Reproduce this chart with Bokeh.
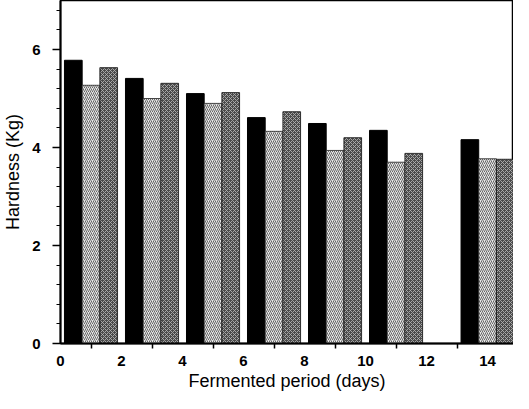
from bokeh.plotting import figure
from bokeh.models import Range1d, FixedTicker, ColumnDataSource
from bokeh.embed import file_html
from bokeh.resources import INLINE

days = [1, 3, 5, 7, 9, 11, 14]
series_a = [5.78, 5.41, 5.10, 4.61, 4.49, 4.35, 4.16]   # black
series_b = [5.27, 5.00, 4.90, 4.33, 3.94, 3.70, 3.77]   # light hatched
series_c = [5.63, 5.31, 5.12, 4.73, 4.20, 3.88, 3.76]   # dark hatched
x_tick_labels = [0, 2, 4, 6, 8, 10, 12, 14]
y_ticks = [0, 2, 4, 6]

bar_w = 0.58

p = figure(width=513, height=393, output_backend="svg", toolbar_location=None,
           x_range=Range1d(0, 14.85), y_range=Range1d(0, 7.0),
           min_border_left=58, min_border_right=0, min_border_top=0,
           min_border_bottom=40)

src = ColumnDataSource(dict(
    xa=[d - bar_w for d in days], xb=list(days), xc=[d + bar_w for d in days],
    a=series_a, b=series_b, c=series_c))

p.vbar(x="xa", top="a", width=bar_w, source=src, fill_color="black", line_color="black")
p.vbar(x="xb", top="b", width=bar_w, source=src, fill_color="#e6e6e6", line_color="#222222",
       line_width=0.8, hatch_pattern="/", hatch_color="#666666", hatch_scale=4, hatch_weight=1.0)
p.vbar(x="xc", top="c", width=bar_w, source=src, fill_color="#4a4a4a", line_color="#111111",
       line_width=0.8, hatch_pattern="x", hatch_color="#b0b0b0", hatch_scale=4, hatch_weight=0.9)

p.grid.visible = False
p.outline_line_color = "black"
p.outline_line_width = 1.5

# x axis
p.xaxis.ticker = FixedTicker(ticks=x_tick_labels, minor_ticks=[1, 3, 5, 7, 9, 11, 13])
p.xaxis.major_tick_line_color = None
p.xaxis.major_tick_out = 0
p.xaxis.major_tick_in = 0
p.xaxis.minor_tick_out = 5
p.xaxis.minor_tick_in = 0
p.xaxis.minor_tick_line_width = 1.5
p.xaxis.major_label_standoff = 7
p.xaxis.axis_label = "Fermented period (days)"

# y axis
p.yaxis.ticker = FixedTicker(ticks=y_ticks,
                             minor_ticks=[0.4, 0.8, 1.2, 1.6, 2.4, 2.8, 3.2, 3.6,
                                          4.4, 4.8, 5.2, 5.6, 6.4, 6.8])
p.yaxis.major_tick_out = 8
p.yaxis.major_tick_in = 0
p.yaxis.minor_tick_out = 4
p.yaxis.minor_tick_in = 0
p.yaxis.major_tick_line_width = 1.5
p.yaxis.major_label_standoff = 12
p.yaxis.axis_label = "Hardness (Kg)"

for ax in (p.xaxis[0], p.yaxis[0]):
    ax.axis_line_width = 2
    ax.axis_line_color = "black"
    ax.major_label_text_font = "Liberation Sans"
    ax.major_label_text_font_size = "15px"
    ax.major_label_text_color = "black"
    ax.major_label_text_font_style = "bold"
    ax.axis_label_text_font = "Liberation Sans"
    ax.axis_label_text_font_size = "18px"
    ax.axis_label_text_font_style = "normal"
    ax.axis_label_text_color = "black"
p.xaxis.axis_label_standoff = 2
p.yaxis.axis_label_standoff = 6

open("out.html", "w").write(file_html(p, INLINE))
